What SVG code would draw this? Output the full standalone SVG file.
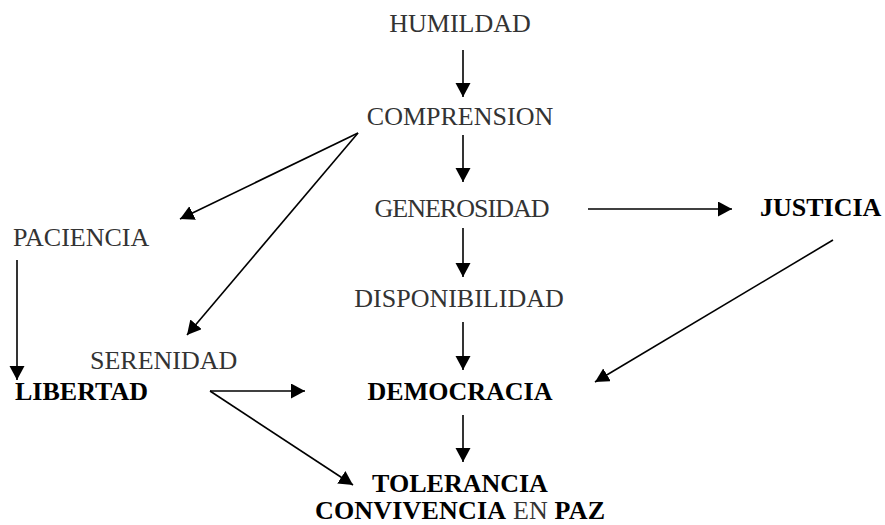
<svg xmlns="http://www.w3.org/2000/svg" width="885" height="525" viewBox="0 0 885 525">
<style>
.t{font-family:"Liberation Serif","Times New Roman",serif;font-size:26px;fill:#333}
.b{font-weight:bold;fill:#000}
.m{text-anchor:middle}
.c line{stroke:#000;stroke-width:1.6;marker-end:url(#ah)}
</style>
<defs>
<marker id="ah" markerUnits="userSpaceOnUse" markerWidth="16" markerHeight="16" refX="14" refY="7.5" orient="auto">
<path d="M0,0 L14,7.5 L0,15 z" fill="#000"/>
</marker>
</defs>
<rect width="885" height="525" fill="#fff"/>
<g id="n-humildad"><text class="t m" x="460" y="32">HUMILDAD</text></g>
<g id="n-comprension"><text class="t m" x="460" y="125">COMPRENSION</text></g>
<g id="n-generosidad"><text class="t m" x="462" y="217" textLength="175">GENEROSIDAD</text></g>
<g id="n-justicia"><text class="t b" x="760" y="216">JUSTICIA</text></g>
<g id="n-paciencia"><text class="t" x="13" y="246">PACIENCIA</text></g>
<g id="n-disponibilidad"><text class="t m" x="459" y="307">DISPONIBILIDAD</text></g>
<g id="n-serenidad"><text class="t" x="90" y="369">SERENIDAD</text></g>
<g id="n-libertad"><text class="t b" x="15" y="400">LIBERTAD</text></g>
<g id="n-democracia"><text class="t b m" x="460" y="400">DEMOCRACIA</text></g>
<g id="n-tolerancia"><text class="t b m" x="460" y="492">TOLERANCIA</text><text class="t" x="315" y="519" textLength="290"><tspan class="b">CONVIVENCIA</tspan> EN <tspan class="b">PAZ</tspan></text></g>
<g id="connectors" class="c">
<line x1="463" y1="50" x2="463" y2="97"/>
<line x1="463" y1="135" x2="463" y2="182"/>
<line x1="358" y1="133" x2="180" y2="219"/>
<line x1="358" y1="133" x2="187" y2="335"/>
<line x1="588" y1="209" x2="732" y2="209"/>
<line x1="833" y1="240" x2="595" y2="382"/>
<line x1="463" y1="228" x2="463" y2="277"/>
<line x1="463" y1="322" x2="463" y2="370"/>
<line x1="17" y1="260" x2="17" y2="380"/>
<line x1="210" y1="391" x2="305" y2="391"/>
<line x1="210" y1="391" x2="353" y2="485"/>
<line x1="463" y1="415" x2="463" y2="462"/>
</g>
</svg>
